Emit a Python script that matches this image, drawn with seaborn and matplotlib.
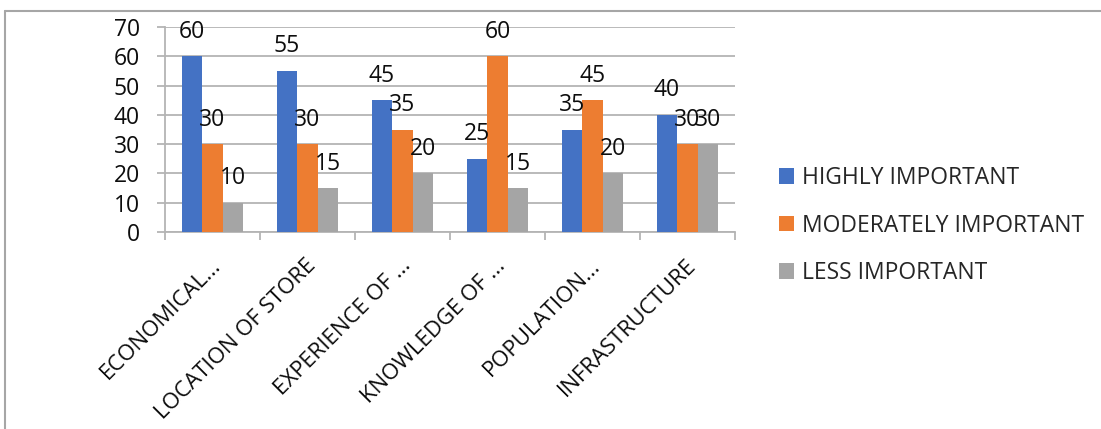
import matplotlib
matplotlib.use("Agg")
import matplotlib.pyplot as plt
from matplotlib.lines import Line2D
from matplotlib.patches import Patch
from matplotlib.transforms import ScaledTranslation
import pandas as pd
import seaborn as sns

categories = ["ECONOMICAL...", "LOCATION OF STORE", "EXPERIENCE OF ...",
              "KNOWLEDGE OF ...", "POPULATION...", "INFRASTRUCTURE"]
series_names = ["HIGHLY IMPORTANT", "MODERATELY IMPORTANT", "LESS IMPORTANT"]
highly = [60, 55, 45, 25, 35, 40]
moderately = [30, 30, 35, 60, 45, 30]
less = [10, 15, 20, 15, 20, 30]
y_ticks = [0, 10, 20, 30, 40, 50, 60, 70]

colors = ["#4472C4", "#ED7D31", "#A5A5A5"]
grid_color = "#b4b4b4"
text_color = "#0d0d0d"

df = pd.DataFrame({
    "category": categories * 3,
    "series": [series_names[0]] * 6 + [series_names[1]] * 6 + [series_names[2]] * 6,
    "value": highly + moderately + less,
})

sns.set_theme(style="white")
plt.rcParams["font.family"] = ["Open Sans", "DejaVu Sans"]

fig = plt.figure(figsize=(11.01, 4.29), dpi=100)
ax = fig.add_axes([165 / 1101, 197 / 429, 570 / 1101, 205 / 429])

sns.barplot(data=df, x="category", y="value", hue="series", order=categories,
            hue_order=series_names, palette=colors, width=0.65, saturation=1,
            linewidth=0, legend=False, ax=ax, zorder=3)

for cont in ax.containers:
    ax.bar_label(cont, fmt="%g", padding=9, fontsize=16.5, color=text_color)

ax.set_xlim(-0.5, len(categories) - 0.5)
ax.set_ylim(0, 70)
ax.set_yticks(y_ticks)
ax.set_yticklabels([str(v) for v in y_ticks], fontsize=16.5, color=text_color)
ax.yaxis.grid(True, color=grid_color, linewidth=1.3, zorder=0)
ax.tick_params(axis="y", length=6, width=1.3, color=grid_color, pad=12, left=True)

ax.set_xlabel("")
ax.set_ylabel("")
ax.set_xticks(range(len(categories)))
ax.set_xticklabels(categories, rotation=45, ha="right", va="center",
                   rotation_mode="anchor", fontsize=16, color=text_color)
ax.tick_params(axis="x", length=0, pad=22)
for lab in ax.get_xticklabels():
    lab.set_transform(lab.get_transform() + ScaledTranslation(0.05, 0, fig.dpi_scale_trans))
ax.set_xticks([i - 0.5 for i in range(len(categories) + 1)], minor=True)
ax.tick_params(axis="x", which="minor", length=6, width=1.3, color=grid_color, bottom=True)

for side in ["top", "right"]:
    ax.spines[side].set_visible(False)
ax.spines["left"].set_color(grid_color)
ax.spines["left"].set_linewidth(1.3)
ax.spines["bottom"].set_color(grid_color)
ax.spines["bottom"].set_linewidth(1.3)

handles = [Patch(facecolor=c, edgecolor="none") for c in colors]
fig.legend(handles, series_names, loc="upper left", bbox_to_anchor=(770 / 1101, 1 - 157 / 429),
           frameon=False, fontsize=16.5, handlelength=0.65, handleheight=0.65,
           handletextpad=0.35, labelspacing=1.02, borderaxespad=0)

# open frame around the chart area
fig.add_artist(Line2D([5 / 1101, 1], [1 - 11 / 429, 1 - 11 / 429],
                      transform=fig.transFigure, color="#a6a6a6", linewidth=1.5))
fig.add_artist(Line2D([5 / 1101, 5 / 1101], [0, 1 - 11 / 429],
                      transform=fig.transFigure, color="#a6a6a6", linewidth=1.5))

fig.savefig("out.png", dpi=100)
